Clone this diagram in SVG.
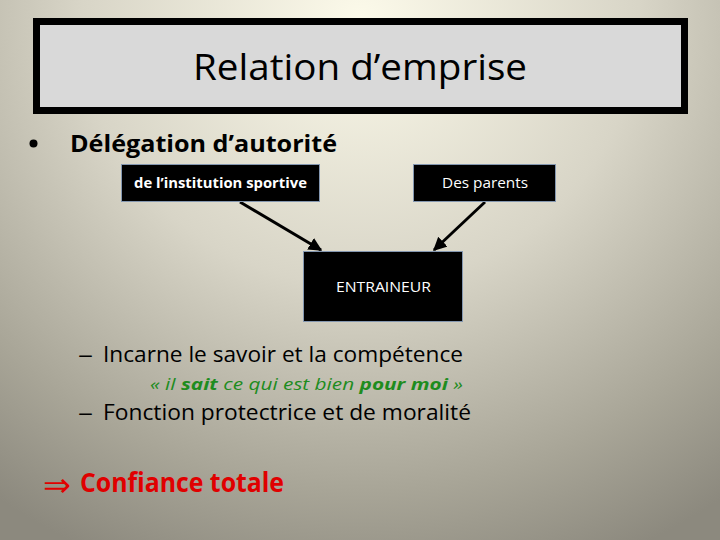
<svg xmlns="http://www.w3.org/2000/svg" width="720" height="540" viewBox="0 0 720 540">
<defs>
<radialGradient id="bg" gradientUnits="userSpaceOnUse" cx="360" cy="20" r="620" gradientTransform="translate(360 20) scale(1 0.95) translate(-360 -20)">
<stop offset="0" stop-color="#fcfaea"/>
<stop offset="0.45" stop-color="#d8d5c7"/>
<stop offset="0.8" stop-color="#a8a597"/>
<stop offset="1" stop-color="#8c897e"/>
</radialGradient>
<marker id="ah" viewBox="0 0 10 10" refX="9" refY="5" markerWidth="4.5" markerHeight="4.5" orient="auto" markerUnits="strokeWidth">
<path d="M0,0 L10,5 L0,10 z" fill="#000"/>
</marker>
<style>
.box{fill:#000;stroke:#8497b0;stroke-width:1}
.bt{fill:#fff;font-family:"Open Sans","Noto Sans",sans-serif;font-size:14px;text-anchor:middle}
.body{font-family:"Open Sans","Noto Sans",sans-serif;fill:#000}
.conn{stroke:#000;stroke-width:3;fill:none;marker-end:url(#ah)}
</style>
</defs>
<rect width="720" height="540" fill="url(#bg)"/>
<g id="title">
<rect x="36.5" y="21.5" width="648" height="89" fill="#d9d9d9" stroke="#000" stroke-width="7"/>
<text x="360" y="80" class="body" font-size="36" text-anchor="middle" textLength="334" lengthAdjust="spacingAndGlyphs">Relation d’emprise</text>
</g>
<g id="bullet1">
<circle cx="33.5" cy="143.5" r="4" fill="#000"/>
<text x="70" y="152" class="body" font-size="24" font-weight="bold" textLength="267" lengthAdjust="spacingAndGlyphs">Délégation d’autorité</text>
</g>
<g id="connectors">
<line x1="240" y1="202" x2="321" y2="250" class="conn"/>
<line x1="485" y1="202" x2="434" y2="250" class="conn"/>
</g>
<g id="institution">
<rect x="121.5" y="164.5" width="198" height="37" class="box"/>
<text x="220.5" y="188" class="bt" font-weight="bold" textLength="173" lengthAdjust="spacingAndGlyphs">de l’institution sportive</text>
</g>
<g id="parents">
<rect x="413.5" y="164.5" width="142" height="37" class="box"/>
<text x="485" y="188" class="bt" textLength="86" lengthAdjust="spacingAndGlyphs">Des parents</text>
</g>
<g id="entraineur">
<rect x="303.5" y="251.5" width="159" height="70" class="box"/>
<text x="383.5" y="292" class="bt" textLength="95" lengthAdjust="spacingAndGlyphs">ENTRAINEUR</text>
</g>
<g id="sub">
<text x="78" y="362" class="body" font-size="22" textLength="15" lengthAdjust="spacingAndGlyphs">–</text>
<text x="103" y="362" class="body" font-size="22" textLength="360" lengthAdjust="spacingAndGlyphs">Incarne le savoir et la compétence</text>
<text x="150" y="390" font-family="'Open Sans','Noto Sans',sans-serif" font-size="16" font-style="italic" fill="#1e8c1e" textLength="313" lengthAdjust="spacingAndGlyphs">« il <tspan font-weight="bold">sait</tspan> ce qui est bien <tspan font-weight="bold">pour moi</tspan> »</text>
<text x="78" y="420" class="body" font-size="22" textLength="15" lengthAdjust="spacingAndGlyphs">–</text>
<text x="103" y="420" class="body" font-size="22" textLength="368" lengthAdjust="spacingAndGlyphs">Fonction protectrice et de moralité</text>
</g>
<g id="conclusion">
<text x="43" y="496" font-family="'DejaVu Sans',sans-serif" font-size="32" fill="#e00000" textLength="28" lengthAdjust="spacingAndGlyphs">⇒</text>
<text x="80" y="492" font-family="'Open Sans','Noto Sans',sans-serif" font-size="26" font-weight="bold" fill="#e00000" textLength="204" lengthAdjust="spacingAndGlyphs">Confiance totale</text>
</g>
</svg>
